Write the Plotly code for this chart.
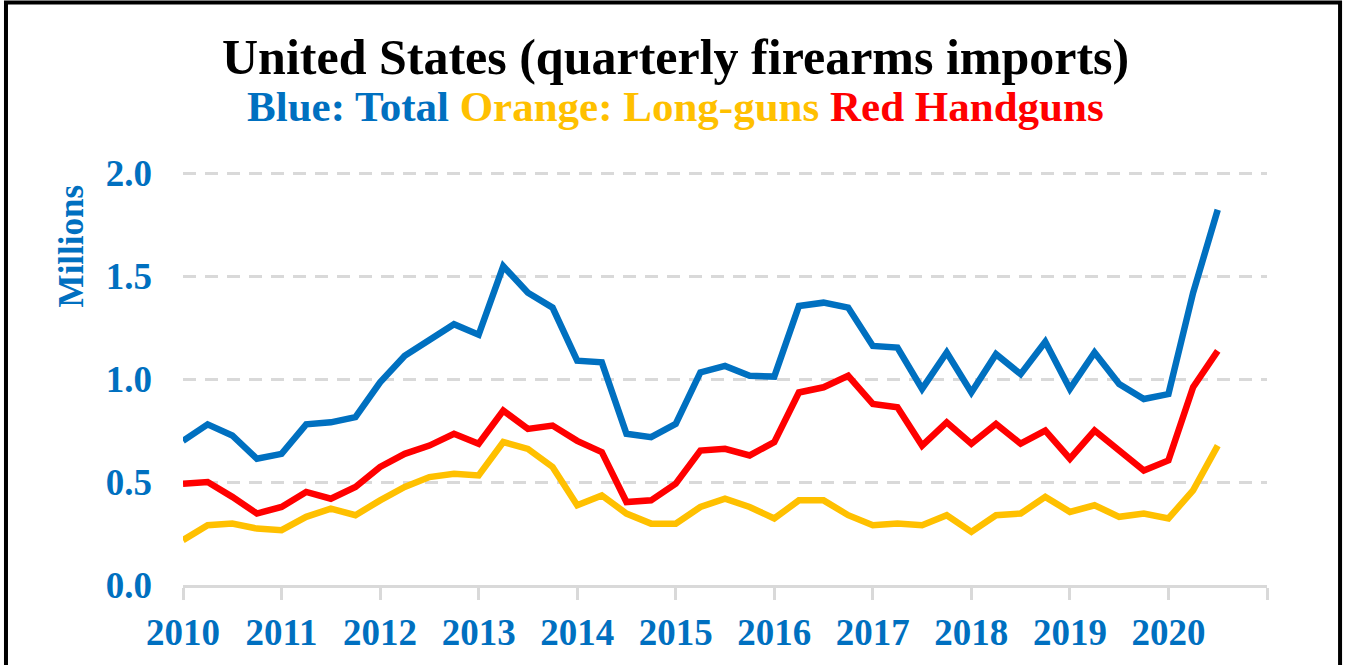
import plotly.graph_objects as go

# Quarter labels (2010 Q1 .. 2020 Q3)
quarters = [f"{y}Q{q}" for y in range(2010, 2021) for q in range(1, 5)][:43]
x_years = [int(s[:4]) + (int(s[-1]) - 1) / 4 for s in quarters]

total = [0.700, 0.780, 0.726, 0.613, 0.637, 0.780, 0.790, 0.815, 0.984, 1.113, 1.190, 1.266, 1.215,
         1.548, 1.419, 1.347, 1.089, 1.081, 0.734, 0.718, 0.782, 1.032, 1.064, 1.016,
         1.012, 1.355, 1.371, 1.347, 1.161, 1.153, 0.952, 1.129, 0.935, 1.121, 1.024, 1.181,
         0.952, 1.129, 0.976, 0.903, 0.927, 1.419, 1.822]
handguns = [0.492, 0.500, 0.428, 0.347, 0.379, 0.452, 0.419, 0.476, 0.573, 0.637, 0.677, 0.734, 0.686,
            0.847, 0.758, 0.774, 0.700, 0.645, 0.403, 0.411, 0.492, 0.653, 0.661, 0.629,
            0.694, 0.935, 0.960, 1.016, 0.879, 0.863, 0.677, 0.790, 0.686, 0.782, 0.686, 0.750,
            0.613, 0.750, 0.653, 0.556, 0.605, 0.960, 1.137]
longguns = [0.218, 0.290, 0.298, 0.274, 0.266, 0.331, 0.371, 0.339, 0.411, 0.476, 0.524, 0.540, 0.532,
            0.694, 0.661, 0.573, 0.387, 0.435, 0.347, 0.298, 0.298, 0.379, 0.419, 0.379,
            0.323, 0.411, 0.411, 0.339, 0.290, 0.298, 0.290, 0.339, 0.258, 0.339, 0.347, 0.428,
            0.355, 0.387, 0.331, 0.347, 0.323, 0.460, 0.677]

year_ticks = list(range(2010, 2022))
year_labels = [str(y) for y in range(2010, 2021)] + [""]
y_ticks = [0.0, 0.5, 1.0, 1.5, 2.0]

BLUE = "#0070C0"
ORANGE = "#FFC000"
RED = "#FF0000"
GRID = "#D9D9D9"
FONT = "Liberation Serif"

fig = go.Figure()
fig.add_trace(go.Scatter(x=x_years, y=longguns, mode="lines", name="Long-guns",
                         line=dict(color=ORANGE, width=6.5)))
fig.add_trace(go.Scatter(x=x_years, y=handguns, mode="lines", name="Handguns",
                         line=dict(color=RED, width=6.5)))
fig.add_trace(go.Scatter(x=x_years, y=total, mode="lines", name="Total",
                         line=dict(color=BLUE, width=6.5)))

fig.update_layout(
    width=1345, height=665,
    margin=dict(l=183, r=78, t=169, b=78, pad=0),
    paper_bgcolor="white", plot_bgcolor="white",
    showlegend=False,
    font=dict(family=FONT, color=BLUE),
)
fig.update_xaxes(
    range=[2010, 2021], tickvals=year_ticks, ticktext=year_labels,
    showgrid=False, zeroline=False,
    showline=True, linecolor=GRID, linewidth=3,
    ticks="outside", ticklen=12, tickwidth=3, tickcolor=GRID,
    tickfont=dict(family=FONT, size=37, color=BLUE, weight="bold"),
    ticklabelstandoff=1,
)
fig.update_yaxes(
    range=[0, 2.02], tickvals=y_ticks, tickformat=".1f",
    showgrid=True, gridcolor=GRID, gridwidth=3, griddash="13px,9px",
    zeroline=False, showline=False, ticks="",
    tickfont=dict(family=FONT, size=37, color=BLUE, weight="bold"),
    ticklabelstandoff=30,
)

fig.add_annotation(
    text="United States (quarterly firearms imports)",
    xref="paper", yref="paper", x=0.454, y=1.27, xanchor="center", yanchor="middle",
    showarrow=False, font=dict(family=FONT, size=50, color="black", weight="bold"),
)
fig.add_annotation(
    text=f"<span style='color:{BLUE}'>Blue: Total</span> "
         f"<span style='color:{ORANGE}'>Orange: Long-guns</span> "
         f"<span style='color:{RED}'>Red Handguns</span>",
    xref="paper", yref="paper", x=0.454, y=1.15, xanchor="center", yanchor="middle",
    showarrow=False, font=dict(family=FONT, size=43, color=BLUE, weight="bold"),
)
fig.add_annotation(
    text="Millions", textangle=-90,
    xref="paper", yref="paper", x=-0.102, y=0.815, xanchor="center", yanchor="middle",
    showarrow=False, font=dict(family=FONT, size=35, color=BLUE, weight="bold"),
)

# outer frame
fig.add_shape(type="rect", xref="paper", yref="paper",
              x0=-0.1633, x1=1.0674, y0=-0.25, y1=1.40,
              line=dict(color="black", width=4), fillcolor="rgba(0,0,0,0)", layer="above")

fig.write_html("out.html", config={"displayModeBar": False},
               post_script="document.body.style.margin='0';")
